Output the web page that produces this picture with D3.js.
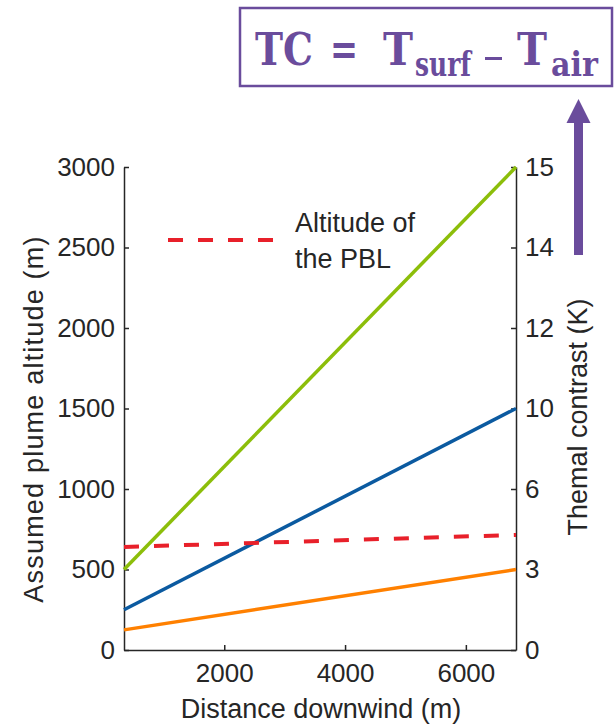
<!DOCTYPE html>
<html>
<head>
<meta charset="utf-8">
<script src="https://cdn.jsdelivr.net/npm/d3@7"></script>
<style>
  body { margin: 0; background: #fff; }
  text { fill: #262626; }
</style>
</head>
<body>
<div id="chart"></div>
<script>
// data
const distance = [340, 6830];
const greenAlt = [500, 3000];
const blueAlt = [250, 1500];
const orangeAlt = [125, 500];
const pblAlt = [640, 715];

const leftTicks = [0, 500, 1000, 1500, 2000, 2500, 3000];
const rightTickLabels = ['0', '3', '6', '10', '12', '14', '15'];
const xTicks = [2000, 4000, 6000];

const W = 615, H = 728;
const margin = {left: 124, right: 99, top: 167, bottom: 78};
const sans = '"Liberation Sans", Arial, sans-serif';

const svg = d3.select('#chart').append('svg')
    .attr('width', W)
    .attr('height', H);

const x = d3.scaleLinear().domain(distance).range([margin.left, W - margin.right]);
const y = d3.scaleLinear().domain([0, 3000]).range([H - margin.bottom, margin.top]);

// axes, ticks point inward
const leftAxis = d3.axisLeft(y).tickValues(leftTicks).tickSizeInner(-5).tickSizeOuter(0).tickPadding(9)
    .tickFormat(d3.format('d'));
const rightAxis = d3.axisRight(y).tickValues(leftTicks).tickSizeInner(-5).tickSizeOuter(0).tickPadding(9)
    .tickFormat((d, i) => rightTickLabels[i]);
const bottomAxis = d3.axisBottom(x).tickValues(xTicks).tickSizeInner(-5).tickSizeOuter(0).tickPadding(14)
    .tickFormat(d3.format('d'));

function styleAxis(g) {
    g.select('.domain').attr('stroke', '#262626').attr('stroke-width', 1.5);
    g.selectAll('.tick line').attr('stroke', '#262626').attr('stroke-width', 1.5);
    g.selectAll('.tick text').attr('font-size', 26).attr('fill', '#262626')
        .attr('font-family', sans);
}

svg.append('g').attr('transform', `translate(${margin.left},0)`).call(leftAxis).call(styleAxis);
svg.append('g').attr('transform', `translate(${W - margin.right},0)`).call(rightAxis).call(styleAxis);
svg.append('g').attr('transform', `translate(0,${H - margin.bottom})`).call(bottomAxis).call(styleAxis);

// lines
const series = [
    {vals: orangeAlt, color: '#ff8000', dash: null},
    {vals: blueAlt, color: '#0b5aa0', dash: null},
    {vals: greenAlt, color: '#8cbe0a', dash: null},
    {vals: pblAlt, color: '#e8202a', dash: '15,15'}
];

const line = d3.line().x(d => x(d[0])).y(d => y(d[1]));

series.forEach(s => {
    svg.append('path')
        .datum(distance.map((d, i) => [d, s.vals[i]]))
        .attr('d', line)
        .attr('fill', 'none')
        .attr('stroke', s.color)
        .attr('stroke-width', s.dash ? 4 : 3.5)
        .attr('stroke-dasharray', s.dash);
});

// legend
svg.append('line')
    .attr('x1', 168).attr('x2', 274)
    .attr('y1', 240).attr('y2', 240)
    .attr('stroke', '#e8202a').attr('stroke-width', 4)
    .attr('stroke-dasharray', '15,15');
svg.append('text').attr('x', 295).attr('y', 232).attr('font-size', 27).attr('font-family', sans).text('Altitude of');
svg.append('text').attr('x', 295).attr('y', 268).attr('font-size', 27).attr('font-family', sans).text('the PBL');

// axis titles
svg.append('text')
    .attr('transform', 'translate(43,419) rotate(-90)')
    .attr('text-anchor', 'middle').attr('font-size', 27).attr('font-family', sans)
    .attr('letter-spacing', 1.2)
    .text('Assumed plume altitude (m)');
svg.append('text')
    .attr('transform', 'translate(587,417) rotate(-90)')
    .attr('text-anchor', 'middle').attr('font-size', 27).attr('font-family', sans)
    .text('Themal contrast (K)');
svg.append('text')
    .attr('x', 321).attr('y', 718)
    .attr('text-anchor', 'middle').attr('font-size', 27).attr('font-family', sans)
    .text('Distance downwind (m)');

// formula box
const purple = '#6a4c9c';
svg.append('rect')
    .attr('x', 240).attr('y', 8).attr('width', 372).attr('height', 78)
    .attr('fill', 'none').attr('stroke', purple).attr('stroke-width', 2.5);

const pieces = [
    {t: 'TC', x: 255, w: 58, size: 44, base: 65},
    {t: '=', x: 330, w: 28, size: 44, base: 65},
    {t: 'T', x: 383, w: 30, size: 44, base: 65},
    {t: 'surf', x: 415, w: 56, size: 34, base: 76},
    {t: 'T', x: 517, w: 30, size: 44, base: 65},
    {t: 'air', x: 551, w: 47, size: 34, base: 76}
];
svg.selectAll('text.formula')
    .data(pieces)
    .join('text')
    .attr('class', 'formula')
    .attr('x', d => d.x).attr('y', d => d.base)
    .attr('font-family', '"DejaVu Serif", "Liberation Serif", serif')
    .attr('font-weight', 'bold')
    .attr('font-size', d => d.size)
    .attr('textLength', d => d.w)
    .attr('lengthAdjust', 'spacingAndGlyphs')
    .style('fill', purple)
    .text(d => d.t);
// minus sign as a bar, like the math font one
svg.append('rect')
    .attr('x', 485).attr('y', 57).attr('width', 17).attr('height', 3)
    .attr('fill', purple);

// arrow
svg.append('rect')
    .attr('x', 574).attr('y', 120).attr('width', 9).attr('height', 135)
    .attr('fill', purple);
svg.append('path')
    .attr('d', 'M566.5,123 L590.5,123 L578.5,99 Z')
    .attr('fill', purple);
</script>
</body>
</html>
